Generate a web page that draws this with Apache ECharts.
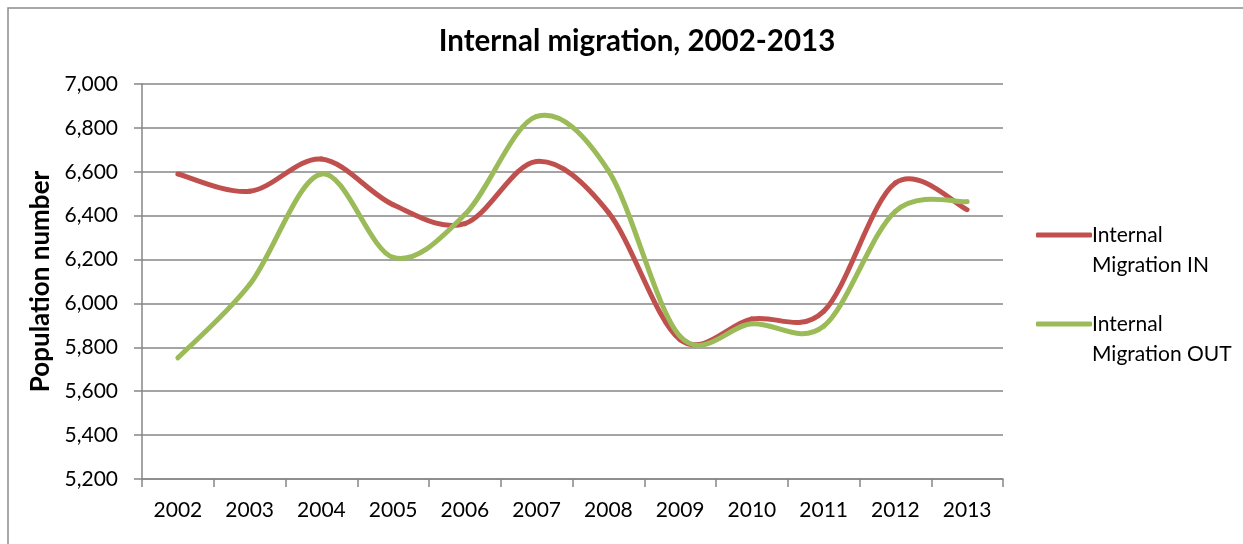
<!DOCTYPE html>
<html>
<head>
<meta charset="utf-8">
<title>Internal migration, 2002-2013</title>
<script src="https://cdn.jsdelivr.net/npm/echarts@6/dist/echarts.min.js"></script>
<style>
  html, body { margin: 0; padding: 0; background: #ffffff; }
  #chart { width: 1243px; height: 544px; }
</style>
</head>
<body>
<div id="chart"></div>
<script>
// Years on the horizontal axis
const years = ['2002', '2003', '2004', '2005', '2006', '2007', '2008', '2009', '2010', '2011', '2012', '2013'];

// Yearly migration counts
const migrationIn  = [6590, 6511, 6658, 6450, 6364, 6647, 6415, 5835, 5929, 5964, 6549, 6427];
const migrationOut = [5752, 6086, 6590, 6210, 6405, 6852, 6605, 5850, 5907, 5896, 6420, 6464];

// Series names as shown in the legend
const seriesNames = ['Internal\nMigration IN', 'Internal\nMigration OUT'];

// Value axis range
const yMin = 5200;
const yMax = 7000;
const yStep = 200;

const FONT = 'Lato, "Open Sans", sans-serif';
const GRID_GRAY = '#868686';
const RED = '#C0504D';
const GREEN = '#9BBB59';

// Smoothed line: each data item draws the cubic segment to the next point,
// with Catmull-Rom tangents taken from the neighbouring points (pixel space).
function smoothSegment(values, color) {
  return function (params, api) {
    const i = params.dataIndex;
    const n = values.length;
    if (i >= n - 1) return null;
    const pt = k => api.coord([Math.max(0, Math.min(n - 1, k)), values[Math.max(0, Math.min(n - 1, k))]]);
    const p0 = pt(i - 1), p1 = pt(i), p2 = pt(i + 1), p3 = pt(i + 2);
    return {
      type: 'bezierCurve',
      shape: {
        x1: p1[0], y1: p1[1],
        x2: p2[0], y2: p2[1],
        cpx1: p1[0] + (p2[0] - p0[0]) / 6,
        cpy1: p1[1] + (p2[1] - p0[1]) / 6,
        cpx2: p2[0] - (p3[0] - p1[0]) / 6,
        cpy2: p2[1] - (p3[1] - p1[1]) / 6
      },
      style: { stroke: color, lineWidth: 5, fill: null, lineCap: 'round', lineJoin: 'round' },
      silent: true
    };
  };
}

const chart = echarts.init(document.getElementById('chart'), null, { renderer: 'canvas' });

chart.setOption({
  animation: false,
  backgroundColor: '#ffffff',
  textStyle: { fontFamily: FONT, color: '#000000' },
  title: {
    text: 'Internal migration, 2002-2013',
    left: 632,
    top: 21,
    textAlign: 'center',
    textStyle: { fontFamily: FONT, fontWeight: 'bold', fontSize: 29.5, color: '#000000' }
  },
  graphic: [{
    type: 'rect',
    shape: { x: 8, y: 8, width: 1400, height: 700 },
    style: { fill: 'none', stroke: '#8c8c8c', lineWidth: 1.5 },
    silent: true,
    z: -1
  }],
  legend: {
    orient: 'vertical',
    left: 1031,
    top: 185,
    itemWidth: 56,
    itemHeight: 5,
    itemGap: -1,
    icon: 'roundRect',
    data: seriesNames,
    formatter: name => ' \n' + name,
    textStyle: {
      fontFamily: FONT,
      fontSize: 21,
      lineHeight: 30,
      color: '#000000',
      padding: [0, 0, 0, -5]
    }
  },
  grid: {
    left: 142,
    top: 84,
    right: 240,
    bottom: 65,
    outerBoundsMode: 'none'
  },
  xAxis: {
    type: 'category',
    data: years,
    boundaryGap: true,
    axisLine: { show: true, lineStyle: { color: GRID_GRAY, width: 1.5 } },
    axisTick: { show: true, length: 8, inside: false, alignWithLabel: false, lineStyle: { color: GRID_GRAY, width: 1.5 } },
    axisLabel: { color: '#000000', fontFamily: FONT, fontSize: 21, margin: 21, interval: 0 },
    splitLine: { show: false }
  },
  yAxis: {
    type: 'value',
    min: yMin,
    max: yMax,
    interval: yStep,
    name: 'Population number',
    nameLocation: 'middle',
    nameRotate: 90,
    nameGap: 88,
    nameTextStyle: { fontFamily: FONT, fontWeight: 'bold', fontSize: 26, color: '#000000' },
    axisLine: { show: true, lineStyle: { color: GRID_GRAY, width: 1.5 } },
    axisTick: { show: true, length: 8, inside: false, lineStyle: { color: GRID_GRAY, width: 1.5 } },
    axisLabel: {
      color: '#000000',
      fontFamily: FONT,
      fontSize: 21,
      margin: 24,
      formatter: v => v.toLocaleString('en-US')
    },
    splitLine: { show: true, lineStyle: { color: GRID_GRAY, width: 1.5 } }
  },
  series: [
    {
      name: seriesNames[0],
      type: 'custom',
      data: migrationIn.map((v, i) => [i, v]),
      encode: { x: 0, y: 1 },
      itemStyle: { color: RED },
      renderItem: smoothSegment(migrationIn, RED),
      z: 3
    },
    {
      name: seriesNames[1],
      type: 'custom',
      data: migrationOut.map((v, i) => [i, v]),
      encode: { x: 0, y: 1 },
      itemStyle: { color: GREEN },
      renderItem: smoothSegment(migrationOut, GREEN),
      z: 4
    }
  ]
});
</script>
</body>
</html>
